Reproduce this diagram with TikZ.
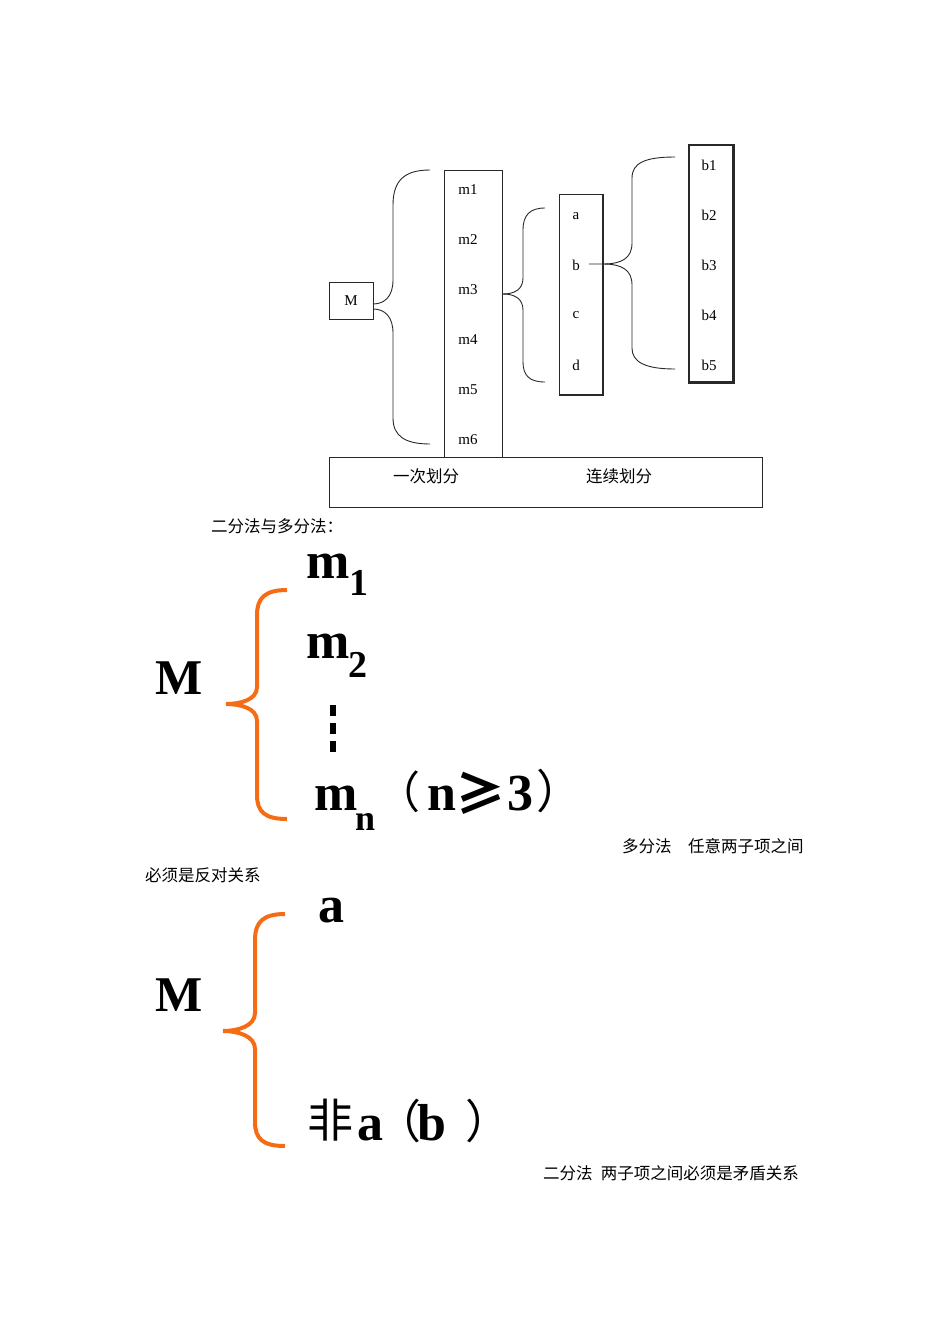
\documentclass[tikz,border=0pt]{standalone}
\usepackage{fontspec}
\setmainfont{Liberation Serif}
\newfontfamily\cjk{Noto Sans CJK SC}
\definecolor{braceorange}{RGB}{245,108,20}
\definecolor{linegray}{RGB}{40,40,40}
\tikzset{
  box/.style={draw=linegray, line width=0.8pt, inner sep=0pt},
  lbl/.style={font=\fontsize{15}{15}\selectfont, inner sep=0pt},
  cn/.style={font=\fontsize{16.5}{16.5}\selectfont\cjk, inner sep=0pt},
  cnleft/.style={cn, anchor=west},
  bracepath/.style={draw=linegray, line width=0.9pt},
  obrace/.style={draw=braceorange, line width=4pt},
  bigM/.style={font=\fontsize{50}{50}\selectfont\bfseries, inner sep=0pt, anchor=base west},
  bigb/.style={font=\fontsize{52}{52}\selectfont\bfseries, inner sep=0pt, anchor=base west},
  subb/.style={font=\fontsize{38}{38}\selectfont\bfseries, inner sep=0pt, anchor=base west},
  cnbig/.style={font=\fontsize{46}{46}\selectfont\cjk, inner sep=0pt, anchor=base west},
  cnparen/.style={font=\fontsize{44}{44}\selectfont\cjk, inner sep=0pt, anchor=base west},
  cngeq/.style={font=\fontsize{50}{50}\selectfont\cjk\bfseries, inner sep=0pt, anchor=base west},
}
\begin{document}
\begin{tikzpicture}[x=1pt,y=-1pt]
\useasboundingbox (0,0) rectangle (950,1344);

% ---------- top diagram ----------
\node[box, lbl, minimum width=44pt, minimum height=37pt] (Mbox) at (351,300.5) {M};
\node[box, minimum width=58pt, minimum height=287pt] (mcol) at (473,313.5) {};
\foreach \i/\y in {1/190,2/240,3/290,4/340,5/390,6/440}
  \node[lbl] (m\i) at (468,\y) {m\i};
\node[box, minimum width=44pt, minimum height=201pt] (abox) at (581,294.5) {};
\draw[linegray, line width=2pt] (abox.north east) -- (abox.south east) -- (abox.south west);
\node[lbl] (la) at (576,216) {a};
\node[lbl] (lb) at (576,265) {b};
\node[lbl] (lc) at (576,315) {c};
\node[lbl] (ld) at (576,365) {d};
\node[box, line width=1.4pt, minimum width=44pt, minimum height=237pt] (bbox) at (711,263.5) {};
\draw[linegray, line width=2pt] (bbox.north east) -- (bbox.south east) -- (bbox.south west);
\foreach \i/\y in {1/165,2/215,3/265,4/315,5/365}
  \node[lbl] (b\i) at (709,\y) {b\i};
\node[box, minimum width=433pt, minimum height=50pt] (base) at (545.5,482) {};
\node[cn] (once) at (426,476) {一次划分};
\node[cn] (cont) at (619,476) {连续划分};

% braces of the top diagram
\coordinate (t1a) at (373,304);
\coordinate (t1b) at (373,309);
\coordinate (e1top) at (430,170);
\coordinate (e1bot) at (430,444);
\draw[bracepath] (e1top) .. controls (405,170) and (393,180) .. (393,205) -- (393,280)
  .. controls (393,296) and (385,304) .. (t1a);
\draw[bracepath] (t1b) .. controls (385,309) and (393,317) .. (393,333) -- (393,418)
  .. controls (393,436) and (405,444) .. (e1bot);

\coordinate (t2) at (503,294);
\coordinate (e2top) at (545,208);
\coordinate (e2bot) at (545,382);
\draw[bracepath] (e2top) .. controls (530,208) and (523,215) .. (523,230) -- (523,278)
  .. controls (523,289) and (515,294) .. (t2);
\draw[bracepath] (t2) .. controls (515,294) and (523,299) .. (523,310) -- (523,362)
  .. controls (523,376) and (530,382) .. (e2bot);

\coordinate (t3s) at (589,264);
\coordinate (t3) at (603,264);
\coordinate (e3top) at (675,157);
\coordinate (e3bot) at (675,369);
\draw[bracepath] (t3s) -- (t3) .. controls (622,264) and (632,258) .. (632,243) -- (632,178)
  .. controls (632,163) and (645,157) .. (e3top);
\draw[bracepath] (t3) .. controls (622,264) and (632,270) .. (632,285) -- (632,348)
  .. controls (632,362) and (645,369) .. (e3bot);

% ---------- middle: multi-division ----------
\node[cnleft] (title) at (211,526) {二分法与多分法：};
\node[bigM] (M2) at (155,694) {M};
\node[bigb] (mm1) at (306,578) {m};
\node[subb] (s1) at (349,595) {1};
\node[bigb] (mm2) at (306,658) {m};
\node[subb] (s2) at (348,677) {2};
\node[bigb] (mmn) at (314,810) {m};
\node[subb, font=\fontsize{36}{36}\selectfont\bfseries] (sn) at (355,830) {n};
\node[cnparen] (lp1) at (376,808) {（};
\node[bigb] (nn) at (427,810) {n};
\node[cngeq] (geq) at (455,812) {≥};
\node[bigb] (three) at (507,810) {3};
\node[cnbig] (rp1) at (536,808) {）};
\coordinate (dtop) at (333,705);
\coordinate (dbot) at (333,754);
\draw[line width=6pt, dash pattern=on 11pt off 7pt] (dtop) -- (dbot);
\coordinate (o1top) at (287,590);
\coordinate (o1tip) at (226,704);
\coordinate (o1bot) at (287,819);
\draw[obrace] (o1top) .. controls (265,590) and (257,598) .. (257,615) -- (257,687)
  .. controls (257,700) and (240,704) .. (o1tip)
  .. controls (240,704) and (257,708) .. (257,721) -- (257,795)
  .. controls (257,812) and (265,819) .. (o1bot);
\node[cnleft] (note1) at (622,846) {多分法　任意两子项之间};
\node[cnleft] (note1b) at (145,875) {必须是反对关系};

% ---------- bottom: dichotomy ----------
\node[bigM] (M3) at (155,1011) {M};
\node[bigb] (a3) at (318,922) {a};
\node[cnbig] (fei) at (307,1137) {非};
\node[bigb] (a4) at (357,1140) {a};
\node[cnbig] (lp2) at (375,1138) {（};
\node[bigb] (bb) at (417,1140) {b};
\node[cnbig] (rp2) at (465,1138) {）};
\coordinate (o2top) at (285,914);
\coordinate (o2tip) at (223,1031);
\coordinate (o2bot) at (285,1146);
\draw[obrace] (o2top) .. controls (263,914) and (255,922) .. (255,940) -- (255,1013)
  .. controls (255,1026) and (238,1031) .. (o2tip)
  .. controls (238,1031) and (255,1036) .. (255,1049) -- (255,1122)
  .. controls (255,1139) and (263,1146) .. (o2bot);
\node[cnleft] (note2) at (543,1173) {二分法\hspace{0.5em}两子项之间必须是矛盾关系};
\end{tikzpicture}
\end{document}
